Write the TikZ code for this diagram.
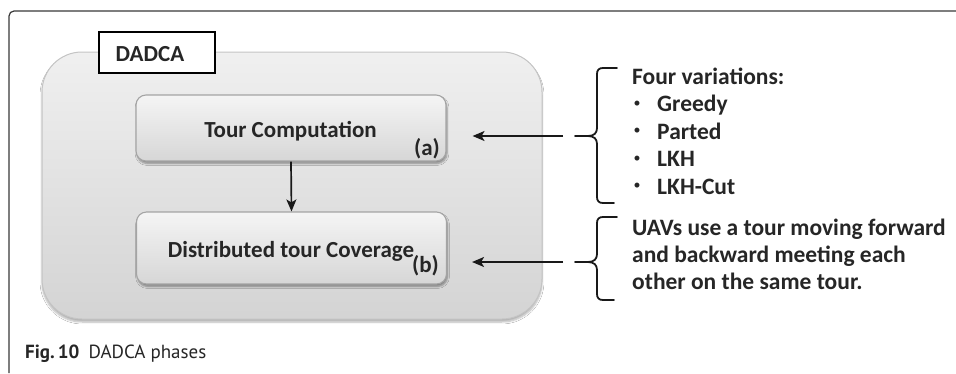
\documentclass[tikz,border=0pt]{standalone}
\usepackage{fontspec}
\setmainfont{Carlito}
\newfontfamily\capfont{PT Sans}
\usetikzlibrary{arrows.meta,shadows.blur}

\definecolor{framegray}{HTML}{3A3A3A}
\definecolor{outerborder}{HTML}{C4C4C4}
\definecolor{innerborder}{HTML}{A4A4A4}

\tikzset{
  framestyle/.style={draw=framegray, line width=1.2pt, rounded corners=5pt},
  phasegroup/.style={draw=outerborder, line width=1pt, rounded corners=40pt,
    top color=black!6, bottom color=black!17,
    blur shadow={shadow xshift=0pt, shadow yshift=-3pt, shadow blur steps=6, shadow opacity=30},
    minimum width=500pt, minimum height=267pt, inner sep=0pt},
  grouptag/.style={draw=black, line width=2.2pt, fill=white,
    minimum width=116pt, minimum height=41pt, inner sep=0pt},
  phasebox/.style={draw=innerborder, line width=1.1pt, rounded corners=10pt,
    top color=black!4, bottom color=black!16,
    blur shadow={shadow xshift=1pt, shadow yshift=-2.5pt, shadow blur steps=5, shadow opacity=40},
    minimum width=310pt, inner sep=0pt},
  boxtext/.style={font=\bfseries\fontsize{23}{27}\selectfont, text=black!85, inner sep=0pt},
  tagtext/.style={font=\bfseries\fontsize{23}{26}\selectfont, text=black!85, inner sep=0pt},
  sidetext/.style={font=\bfseries\fontsize{23.5}{27.5}\selectfont, text=black!85,
    inner sep=0pt, anchor=base west},
  dotmark/.style={font=\fontsize{14}{14}\selectfont, text=black!85, inner sep=0pt, anchor=base},
  arr/.style={draw=black!90, line width=1.7pt, -{Stealth[length=12pt,width=10pt,inset=3pt]}},
  bracestyle/.style={draw=black!90, line width=1.8pt, line cap=round, line join=round},
}

\begin{document}
\begin{tikzpicture}[x=1pt,y=-1pt]
\useasboundingbox (0,0) rectangle (956,373);
\fill[white] (0,0) rectangle (956,373);

% figure frame
\draw[framestyle] (9,373) -- (9,11) -- (956,11);

% grouping panel and its tag
\node[phasegroup] (grp) at (292,185.5) {};
\node[grouptag] (tag) at (157,52.5) {};
\node[tagtext, anchor=base] (tagt) at (150,61) {DADCA};

% the two phases
\node[phasebox, minimum height=66pt] (pa) at (291,128) {};
\node[phasebox, minimum height=72pt] (pb) at (291.5,248) {};
\node[boxtext, anchor=base] (pat) at (290.5,137) {Tour Computation};
\node[boxtext, anchor=base east] (pal) at (440,155) {(a)};
\node[boxtext, anchor=base] (pbt) at (291,257) {Distributed tour Coverage};
\node[boxtext, anchor=base east] (pbl) at (439,272) {(b)};

\draw[arr] (pa.south) -- (pb.north);

% braces with their arrows
\coordinate (b1tip) at (575,136);
\coordinate (b1start) at (563,136);
\coordinate (b2tip) at (575,262);
\coordinate (b2start) at (563,262);

\draw[bracestyle] (617,68) -- (603,68) .. controls (599,68) and (597,70) .. (597,74)
  -- (597,128) .. controls (597,133) and (594,136) .. (588,136) -- (b1tip)
  (588,136) .. controls (594,136) and (597,139) .. (597,144)
  -- (597,197) .. controls (597,201) and (599,203) .. (603,203) -- (614,203);
\draw[bracestyle] (617,217) -- (603,217) .. controls (599,217) and (597,219) .. (597,223)
  -- (597,254) .. controls (597,259) and (594,262) .. (588,262) -- (b2tip)
  (588,262) .. controls (594,262) and (597,265) .. (597,270)
  -- (597,294) .. controls (597,298) and (599,300) .. (603,300) -- (614,300);

\draw[arr, shorten >=26pt] (b1start) -- (b1start -| pa.east);
\draw[arr, shorten >=25pt] (b2start) -- (b2start -| pb.east);

% list of tour variations
\node[sidetext] (var0) at (632,84) {Four variations:};
\foreach \item/\yy [count=\i] in {Greedy/111.5, Parted/139, LKH/166.5, LKH-Cut/194} {
  \node[dotmark] (dot\i) at (637,\yy-4.5) {\textbullet};
  \node[sidetext] (var\i) at (657,\yy) {\item};
}

% coverage description
\foreach \line/\yy [count=\i] in {UAVs use a tour moving forward/235,
    and backward meeting each/262, other on the same tour./289} {
  \node[sidetext] (cov\i) at (632,\yy) {\line};
}

% caption
\node[anchor=base west, inner sep=0pt, font=\capfont\fontsize{19}{22}\selectfont, text=black!85]
  (cap) at (25,358) {{\bfseries Fig.\,10}\hspace{9pt}DADCA phases};
\end{tikzpicture}
\end{document}
